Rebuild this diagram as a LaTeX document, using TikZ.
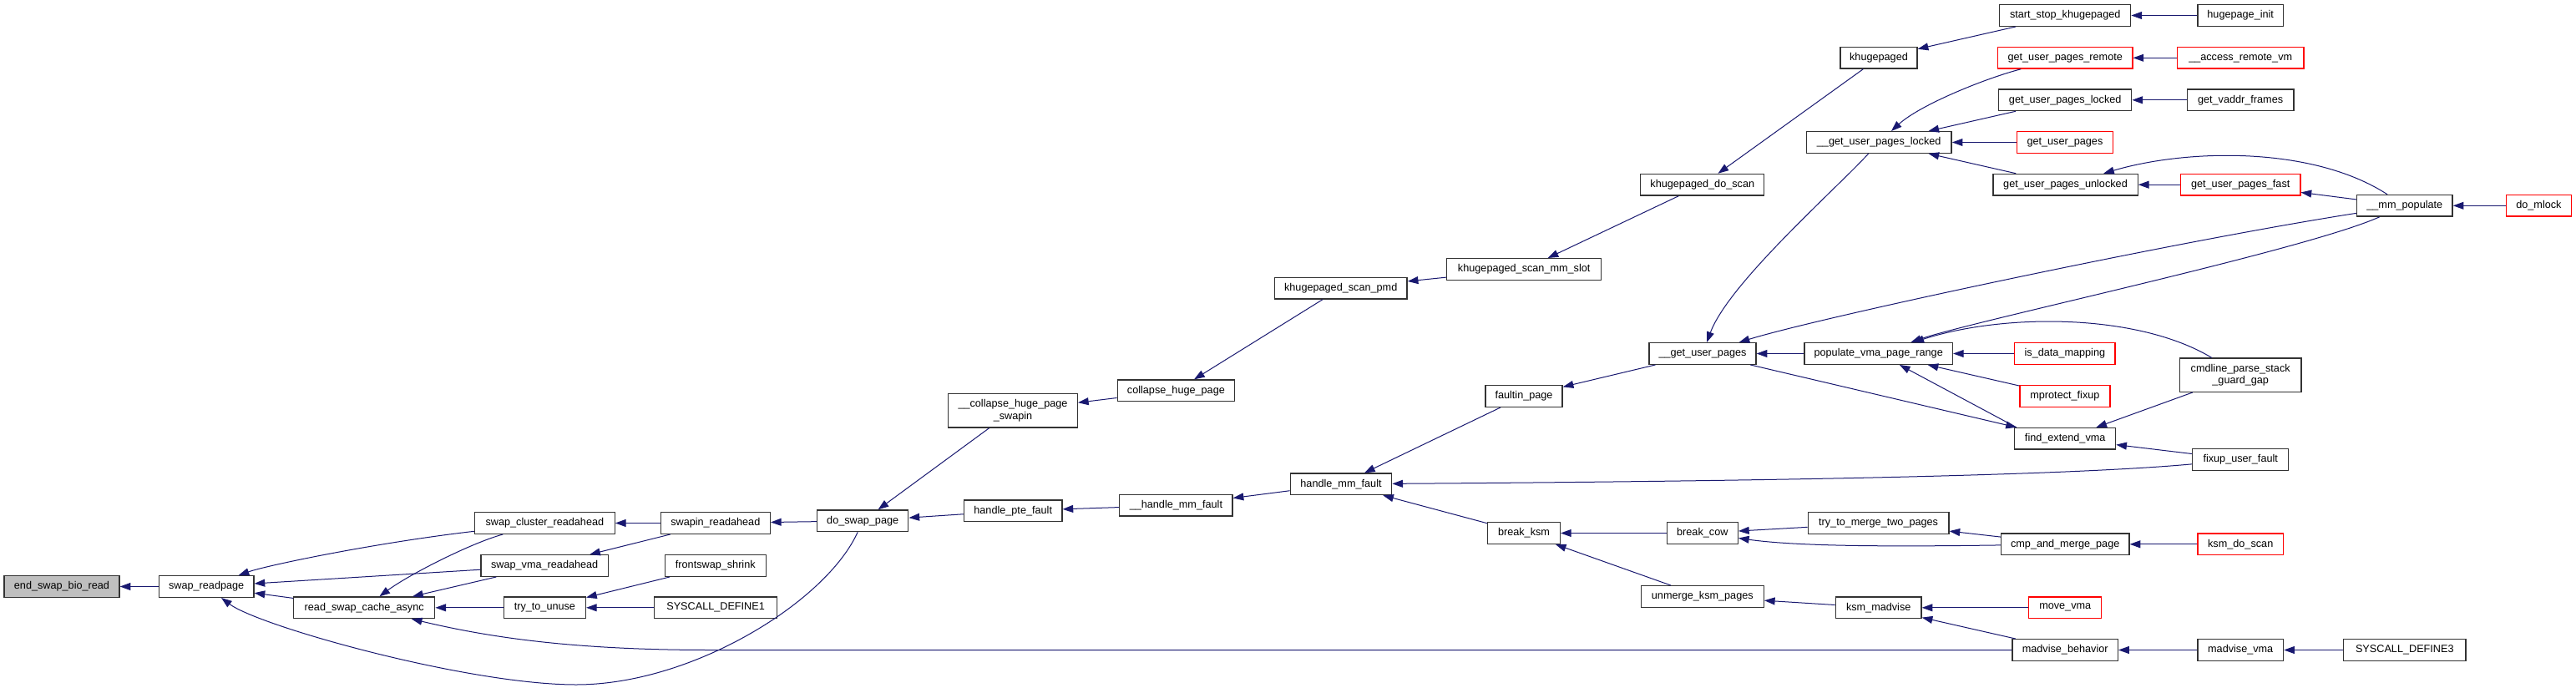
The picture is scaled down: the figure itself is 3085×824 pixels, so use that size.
\documentclass[tikz,border=0pt]{standalone}
\usepackage{fontspec}
\setmainfont{Liberation Sans}
\usetikzlibrary{arrows.meta}
\definecolor{edgeblue}{HTML}{191970}
\definecolor{nodegray}{HTML}{BFBFBF}
\begin{document}
\begin{tikzpicture}[x=0.75pt,y=-0.75pt,
  fn/.style={rectangle, draw=black!80, line width=1pt, fill=white, inner sep=0pt,
    minimum height=19.2pt, font=\fontsize{9.5}{11.2}\selectfont, align=center},
  rn/.style={fn, draw=red},
  tn/.style={fn, minimum height=30.2pt},
  ed/.style={draw=edgeblue, line width=0.75pt, {Triangle[length=9.5pt,width=6.7pt]}-}]
\useasboundingbox (0,0) rectangle (3085,824);
\fill[white] (0,0) rectangle (3085,824);

% nodes
\node[fn, fill=nodegray, minimum width=103.5pt] (esbr) at (74,702.5) {end\_swap\_bio\_read};
\node[fn, minimum width=85.1pt] (srp) at (247.2,702.5) {swap\_readpage};
\node[fn, minimum width=126.8pt] (rsca) at (436.2,727.8) {read\_swap\_cache\_async};
\node[fn, minimum width=125.7pt] (scr) at (652.4,626.5) {swap\_cluster\_readahead};
\node[fn, minimum width=114.2pt] (svr) at (652.2,677.5) {swap\_vma\_readahead};
\node[fn, minimum width=73.5pt] (ttu) at (652.4,727.8) {try\_to\_unuse};
\node[fn, minimum width=98.3pt] (sir) at (856.8,626.5) {swapin\_readahead};
\node[fn, minimum width=90.8pt] (fss) at (856.8,677.5) {frontswap\_shrink};
\node[fn, minimum width=110.3pt] (sd1) at (857.1,727.8) {SYSCALL\_DEFINE1};
\node[fn, minimum width=81.9pt] (dsp) at (1033.2,623.8) {do\_swap\_page};
\node[fn, minimum width=88pt] (hpf) at (1213.2,611.8) {handle\_pte\_fault};
\node[tn, minimum width=116pt] (chps) at (1213,491.8) {\_\_collapse\_huge\_page\\\_swapin};
\node[fn, minimum width=105.2pt] (chp) at (1408.4,467.8) {collapse\_huge\_page};
\node[fn, minimum width=101.4pt] (hmfb) at (1408.4,605.3) {\_\_handle\_mm\_fault};
\node[fn, minimum width=119.1pt] (ksp) at (1605.7,345.2) {khugepaged\_scan\_pmd};
\node[fn, minimum width=138.6pt] (ksms) at (1825.2,322.5) {khugepaged\_scan\_mm\_slot};
\node[fn, minimum width=111pt] (kds) at (2038.8,221.2) {khugepaged\_do\_scan};
\node[fn, minimum width=69pt] (khp) at (2250,69.3) {khugepaged};
\node[fn, minimum width=117.8pt] (ssk) at (2473.2,18.5) {start\_stop\_khugepaged};
\node[fn, minimum width=77pt] (hpi) at (2683.2,18.5) {hugepage\_init};
\node[fn, minimum width=130.4pt] (guplb) at (2250.2,170.5) {\_\_get\_user\_pages\_locked};
\node[rn, minimum width=121pt] (gupr) at (2473.2,69.3) {get\_user\_pages\_remote};
\node[rn, minimum width=113.5pt] (arv) at (2683.2,69.3) {\_\_access\_remote\_vm};
\node[fn, minimum width=119.3pt] (gupl) at (2473.2,119.8) {get\_user\_pages\_locked};
\node[fn, minimum width=95.7pt] (gvf) at (2683.1,119.8) {get\_vaddr\_frames};
\node[rn, minimum width=86pt] (gup) at (2472.9,170.5) {get\_user\_pages};
\node[fn, minimum width=130pt] (gupu) at (2473.5,221.2) {get\_user\_pages\_unlocked};
\node[rn, minimum width=107.5pt] (gupf) at (2683.2,221.2) {get\_user\_pages\_fast};
\node[fn, minimum width=86pt] (mmp) at (2879.8,246.3) {\_\_mm\_populate};
\node[rn, minimum width=58.4pt] (dml) at (3040.4,246.3) {do\_mlock};
\node[fn, minimum width=91pt] (hmf) at (1606,579.8) {handle\_mm\_fault};
\node[fn, minimum width=69.1pt] (fip) at (1825,474.5) {faultin\_page};
\node[fn, minimum width=96pt] (gupb) at (2039,423.5) {\_\_get\_user\_pages};
\node[fn, minimum width=133pt] (pvpr) at (2249.7,423.5) {populate\_vma\_page\_range};
\node[rn, minimum width=90.2pt] (idm) at (2472.9,423.5) {is\_data\_mapping};
\node[rn, minimum width=80.9pt] (mpf) at (2472.9,474.5) {mprotect\_fixup};
\node[tn, minimum width=109.3pt] (cpsg) at (2683.2,449.2) {cmdline\_parse\_stack\\\_guard\_gap};
\node[fn, minimum width=90.6pt] (fev) at (2473.2,525.3) {find\_extend\_vma};
\node[fn, minimum width=86.3pt] (fuf) at (2683.2,550.5) {fixup\_user\_fault};
\node[fn, minimum width=65pt] (bksm) at (1825,638.5) {break\_ksm};
\node[fn, minimum width=63.8pt] (bcow) at (2038.8,638.5) {break\_cow};
\node[fn, minimum width=126.4pt] (ttmtp) at (2249.6,626.5) {try\_to\_merge\_two\_pages};
\node[fn, minimum width=115.1pt] (camp) at (2473.2,651.8) {cmp\_and\_merge\_page};
\node[rn, minimum width=77pt] (kdsc) at (2683.2,651.8) {ksm\_do\_scan};
\node[fn, minimum width=110.2pt] (ukp) at (2038.8,714.5) {unmerge\_ksm\_pages};
\node[fn, minimum width=77pt] (kmad) at (2249.7,727.8) {ksm\_madvise};
\node[rn, minimum width=65.2pt] (mvma) at (2473.2,727.8) {move\_vma};
\node[fn, minimum width=94.8pt] (mbeh) at (2473.2,778.5) {madvise\_behavior};
\node[fn, minimum width=77pt] (madv) at (2683.2,778.5) {madvise\_vma};
\node[fn, minimum width=109.7pt] (sd3) at (2879.8,778.5) {SYSCALL\_DEFINE3};

\coordinate (b1) at (690,820);
\coordinate (b2) at (850,778.5);

% edges (arrow tip at the callee, drawn first)
\draw[ed] (esbr) -- (srp);
\draw[ed] (srp) .. controls (320,677) and (450,650) .. (scr);
\draw[ed] (srp) -- (svr);
\draw[ed] (srp) -- (rsca);
\draw[ed] (srp) .. controls (310,750) and (560,820) .. (b1) .. controls (830,820) and (990,720) .. (dsp);
\draw[ed] (rsca) .. controls (490,688) and (565,650) .. (scr);
\draw[ed] (rsca) -- (svr);
\draw[ed] (rsca) -- (ttu);
\draw[ed] (rsca) .. controls (580,762) and (680,778.5) .. (b2) -- (mbeh);
\draw[ed] (scr) -- (sir);
\draw[ed] (svr) -- (sir);
\draw[ed] (ttu) -- (fss);
\draw[ed] (ttu) -- (sd1);
\draw[ed] (sir) -- (dsp);
\draw[ed] (dsp) -- (chps);
\draw[ed] (dsp) -- (hpf);
\draw[ed] (chps) -- (chp);
\draw[ed] (chp) -- (ksp);
\draw[ed] (hpf) -- (hmfb);
\draw[ed] (hmfb) -- (hmf);
\draw[ed] (ksp) -- (ksms);
\draw[ed] (ksms) -- (kds);
\draw[ed] (kds) -- (khp);
\draw[ed] (khp) -- (ssk);
\draw[ed] (ssk) -- (hpi);
\draw[ed] (hmf) -- (fip);
\draw[ed] (hmf) .. controls (2000,577) and (2450,572) .. (fuf);
\draw[ed] (hmf) -- (bksm);
\draw[ed] (fip) -- (gupb);
\draw[ed] (gupb) .. controls (2070,340) and (2195,230) .. (guplb);
\draw[ed] (gupb) -- (pvpr);
\draw[ed] (gupb) .. controls (2180,380) and (2600,290) .. (mmp);
\draw[ed] (fev.167) -- (gupb);
\draw[ed] (pvpr) -- (fev.167);
\draw[ed] (pvpr) -- (mpf);
\draw[ed] (pvpr) -- (idm);
\draw[ed] (pvpr) .. controls (2360,385) and (2760,300) .. (mmp);
\draw[ed] (pvpr) .. controls (2400,375) and (2560,375) .. (cpsg);
\draw[ed] (fev) -- (cpsg);
\draw[ed] (fev) -- (fuf);
\draw[ed] (guplb) .. controls (2300,125) and (2380,93) .. (gupr);
\draw[ed] (guplb) -- (gupl);
\draw[ed] (guplb) -- (gup);
\draw[ed] (guplb) -- (gupu);
\draw[ed] (gupr) -- (arv);
\draw[ed] (gupl) -- (gvf);
\draw[ed] (gupu) -- (gupf);
\draw[ed] (gupu) .. controls (2620,178) and (2770,175) .. (mmp);
\draw[ed] (gupf) -- (mmp);
\draw[ed] (mmp) -- (dml);
\draw[ed] (bksm) -- (bcow);
\draw[ed] (bksm) -- (ukp);
\draw[ed] (bcow) -- (ttmtp);
\draw[ed] (bcow) .. controls (2150,654) and (2250,655) .. (camp);
\draw[ed] (ttmtp) -- (camp);
\draw[ed] (camp) -- (kdsc);
\draw[ed] (ukp) -- (kmad);
\draw[ed] (kmad) -- (mvma);
\draw[ed] (kmad) -- (mbeh);
\draw[ed] (mbeh) -- (madv);
\draw[ed] (madv) -- (sd3);
\end{tikzpicture}
\end{document}
